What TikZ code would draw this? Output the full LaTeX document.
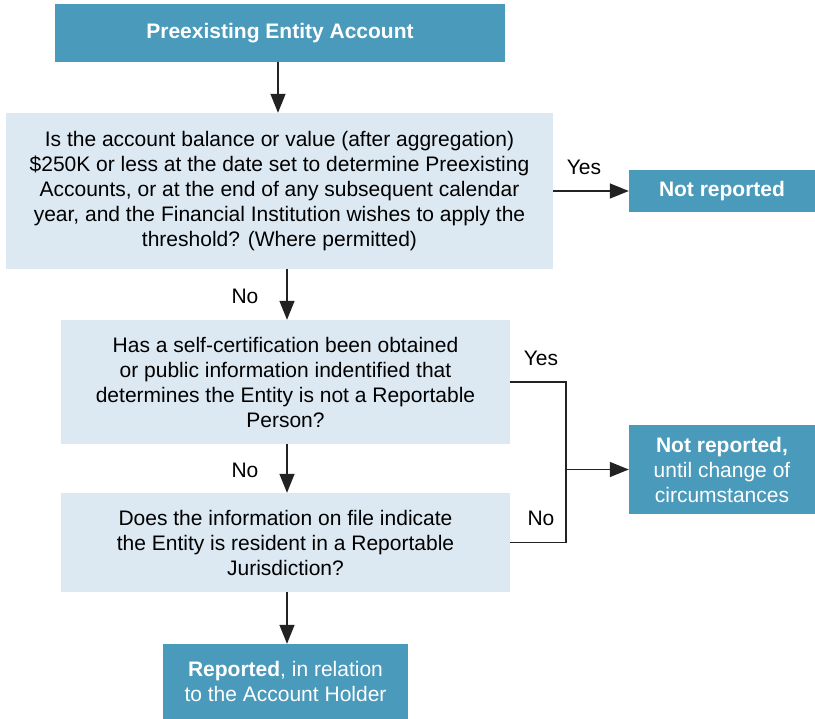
\documentclass[tikz,border=0pt]{standalone}
\usepackage{fontspec}
\setmainfont{Liberation Sans}
\usetikzlibrary{arrows.meta}
\definecolor{teal}{HTML}{4A9ABB}
\definecolor{pale}{HTML}{DCE9F2}
\definecolor{linec}{HTML}{222222}
\tikzset{
  darkbox/.style={fill=teal, text=white, inner sep=0pt, align=center, font=\fontsize{21}{25}\selectfont},
  palebox/.style={fill=pale, text=black, inner sep=0pt, align=center, font=\fontsize{21}{25}\selectfont},
  lbl/.style={inner sep=0pt, font=\fontsize{21}{25}\selectfont},
  arr/.style={draw=linec, line width=1.4pt, -{Triangle[length=19pt,width=15pt]}},
  ln/.style={draw=linec, line width=1.4pt}
}
\begin{document}
\begin{tikzpicture}[x=1pt,y=-1pt]
\useasboundingbox (0,0) rectangle (815,719);
\node[darkbox, minimum width=450pt, minimum height=58pt] (start) at (280,33) {\textbf{Preexisting Entity Account}};
\node[palebox, minimum width=547pt, minimum height=156pt] (q1) at (279.5,191) {Is the account balance or value (after aggregation)\\\$250K or less at the date set to determine Preexisting\\Accounts, or at the end of any subsequent calendar\\year, and the Financial Institution wishes to apply the\\threshold? (Where permitted)};
\node[darkbox, minimum width=186pt, minimum height=42pt] (nr1) at (722,191) {\textbf{Not reported}};
\node[palebox, minimum width=449pt, minimum height=124pt] (q2) at (285.5,382) {Has a self-certification been obtained\\or public information indentified that\\determines the Entity is not a Reportable\\Person?};
\node[palebox, minimum width=449pt, minimum height=99pt] (q3) at (285.5,542.5) {Does the information on file indicate\\the Entity is resident in a Reportable\\Jurisdiction?};
\node[darkbox, minimum width=186pt, minimum height=89pt] (nr2) at (722,469.5) {\textbf{Not reported,}\\until change of\\circumstances};
\node[darkbox, minimum width=245pt, minimum height=75pt] (rep) at (285.5,681.5) {\textbf{Reported}, in relation\\to the Account Holder};
\coordinate (j) at (566,469.5);
\draw[arr] (start.south -| 278,0) -- (q1.north -| 278,0);
\draw[arr] (q1.east) -- (nr1.west);
\draw[arr] (q1.south -| 287,0) -- (q2.north -| 287,0);
\draw[arr] (q2.south -| 287,0) -- (q3.north -| 287,0);
\draw[arr] (q3.south -| 287,0) -- (rep.north -| 287,0);
\draw[ln] (q2.east) -- (q2.east -| j) -- (q3.east -| j) -- (q3.east);
\draw[arr] (j) -- (nr2.west);
\node[lbl] (y1) at (584,167) {Yes};
\node[lbl] (n1) at (245,296) {No};
\node[lbl] (n2) at (245,470) {No};
\node[lbl] (y2) at (541,358) {Yes};
\node[lbl] (n3) at (541,518) {No};
\end{tikzpicture}
\end{document}
